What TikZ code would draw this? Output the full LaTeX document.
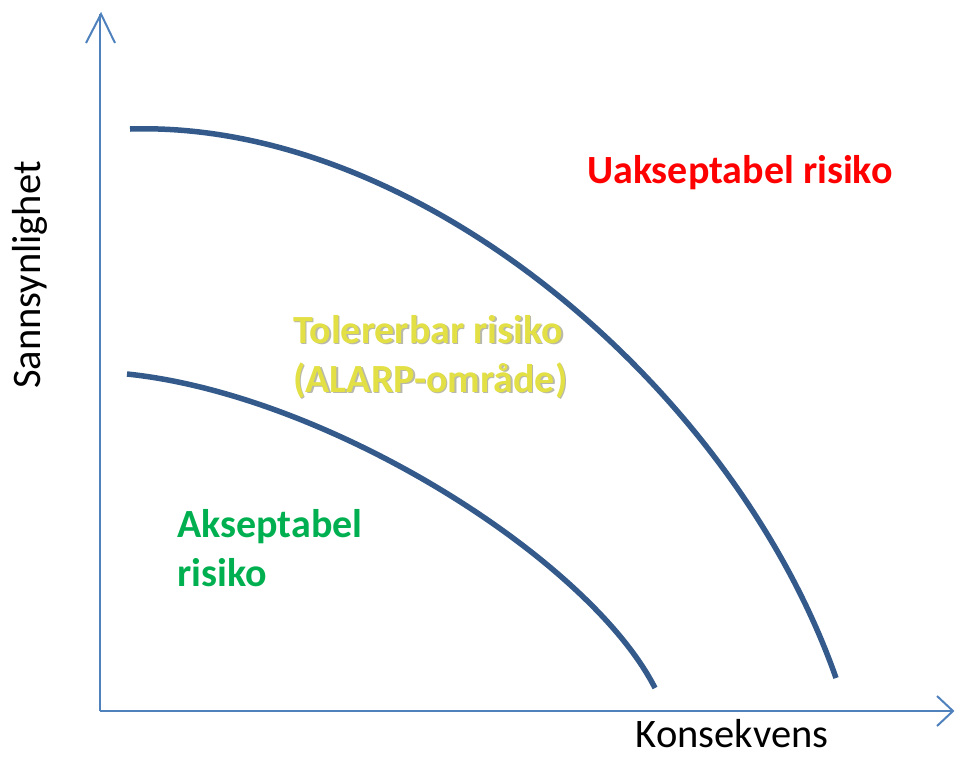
\documentclass[tikz,border=0pt]{standalone}
\usepackage{fontspec}
\setmainfont{Carlito}
\definecolor{axisblue}{HTML}{4F81BD}
\definecolor{curveblue}{HTML}{335A8A}
\definecolor{riskred}{HTML}{FF0000}
\definecolor{riskgreen}{HTML}{00B050}
\definecolor{tolyellow}{HTML}{E2E044}
\definecolor{tolshadow}{HTML}{B8B8AC}
\begin{document}
\begin{tikzpicture}[x=1pt,y=-1pt,
  axisline/.style={draw=axisblue,line width=2pt},
  barb/.style={draw=axisblue,line width=2pt,line join=miter},
  riskcurve/.style={draw=curveblue,line width=5.5pt},
  boldlabel/.style={font=\fontsize{40}{48}\selectfont\bfseries,inner sep=0pt,anchor=base west},
  axislabel/.style={font=\fontsize{40.5}{48}\selectfont,inner sep=0pt,anchor=base}]
\useasboundingbox (0,0) rectangle (955,756);
% axes
\coordinate (origin) at (100,711);
\coordinate (ytop) at (100,14);
\coordinate (ytip) at (101,14);
\coordinate (xtip) at (953,711);
\coordinate (yl) at (86,43);
\coordinate (yr) at (115,43);
\coordinate (xu) at (937,696);
\coordinate (xd) at (937,726);
\draw[axisline] (origin) -- (ytop);
\draw[axisline] (origin) -- (xtip);
\draw[barb] (yl) -- (ytip) -- (yr);
\draw[barb] (xu) -- (xtip) -- (xd);
% curves
\coordinate (u0) at (130,129);
\coordinate (u1) at (836,678);
\coordinate (l0) at (127,374);
\coordinate (l1) at (655,688);
\draw[riskcurve] (u0) .. controls (420,120) and (735,390) .. (u1);
\draw[riskcurve] (l0) .. controls (330,395) and (590,560) .. (l1);
% labels
\node[boldlabel,text=riskred] (ua) at (587,183) {Uakseptabel risiko};
\node[boldlabel,text=tolshadow] (tols1) at (294.5,344.5) {Tolererbar risiko};
\node[boldlabel,text=tolshadow] (tols2) at (294.5,393.5) {(ALARP-område)};
\node[boldlabel,text=tolyellow] (tol1) at (293,343) {Tolererbar risiko};
\node[boldlabel,text=tolyellow] (tol2) at (293,392) {(ALARP-område)};
\node[boldlabel,text=riskgreen] (ak1) at (177,537) {Akseptabel};
\node[boldlabel,text=riskgreen] (ak2) at (177,586) {risiko};
\node[axislabel,rotate=90] (ylab) at (40,275) {Sannsynlighet};
\node[axislabel] (xlab) at (732,747) {Konsekvens};
\end{tikzpicture}
\end{document}
